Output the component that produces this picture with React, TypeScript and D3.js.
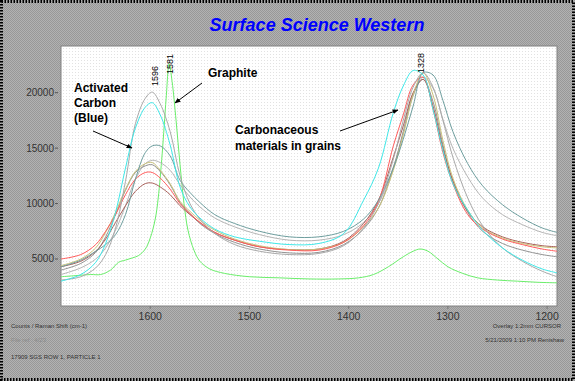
import React from "react";
import * as d3 from "d3";

// ---------- data ----------
const wavenumbers = [1690, 1670, 1655, 1645, 1635, 1625, 1615, 1605, 1598, 1590, 1580, 1570, 1560, 1550, 1535, 1515, 1490, 1460, 1430, 1405, 1385, 1370, 1355, 1345, 1335, 1325, 1315, 1305, 1295, 1280, 1265, 1245, 1225, 1205, 1190];

const cyanA = [3000, 3600, 4700, 6400, 9200, 13200, 16800, 18700, 19100, 18000, 15300, 11500, 9700, 8700, 7700, 7000, 6600, 6300, 6400, 7300, 10300, 13200, 18200, 20600, 22000, 21600, 18500, 14800, 11800, 9400, 7600, 6000, 4900, 4100, 3750];
const grayB = [3100, 3400, 4200, 5400, 7800, 12000, 17200, 19500, 20050, 19000, 16500, 12500, 10000, 8600, 7300, 6300, 5700, 5400, 5500, 6200, 7800, 10000, 14000, 17500, 20500, 21800, 20500, 17500, 14200, 10500, 8000, 6000, 4800, 3900, 3400];
const tealC = [4300, 4900, 5700, 6300, 7200, 9000, 12200, 14600, 15200, 15200, 14300, 12100, 11000, 10100, 9000, 8200, 7500, 7000, 7000, 7500, 8600, 10300, 13200, 15800, 18800, 21800, 21600, 19300, 16500, 13600, 11600, 9900, 8700, 7800, 7400];
const grayC = [3600, 4200, 5000, 6000, 7600, 9800, 12200, 13600, 13900, 13700, 13000, 11700, 10600, 9700, 8700, 7900, 7200, 6700, 6700, 7200, 8300, 10000, 13300, 16300, 19700, 21400, 20400, 17600, 15000, 12400, 10500, 9000, 8100, 7400, 7100];
const oliveD = [4400, 5000, 6000, 7400, 9200, 11300, 12900, 13600, 13700, 13000, 11800, 10200, 9300, 8500, 7600, 6800, 6200, 5850, 5900, 6500, 7900, 9600, 13000, 16200, 19800, 21800, 19800, 15700, 12300, 9400, 7800, 6900, 6400, 6100, 6000];
const grayE = [4000, 4600, 5600, 7000, 9000, 11200, 12800, 13400, 13500, 12900, 11700, 10100, 9100, 8200, 7300, 6500, 5900, 5550, 5600, 6300, 7700, 9600, 13200, 16500, 19900, 21200, 19200, 15300, 12000, 9200, 7500, 6400, 5800, 5400, 5200];
const redF = [5000, 5400, 6300, 7500, 9000, 10800, 12200, 12800, 12800, 12300, 11300, 10000, 9100, 8300, 7400, 6700, 6100, 5800, 5800, 6500, 8000, 10200, 15200, 18000, 20700, 21400, 18500, 14600, 11800, 9000, 7700, 6800, 6300, 5900, 5700];
const brownG = [4300, 4800, 5700, 6800, 8300, 9800, 11100, 11800, 11850, 11500, 10800, 9800, 9000, 8300, 7400, 6700, 6100, 5850, 5900, 6600, 8200, 10300, 14200, 17000, 20000, 21200, 18800, 15000, 12100, 9300, 7900, 7000, 6500, 6200, 6100];

const graphiteWn = [1690, 1675, 1660, 1650, 1640, 1632, 1625, 1618, 1612, 1605, 1600, 1595, 1592, 1588, 1584, 1581, 1578, 1574, 1570, 1566, 1562, 1556, 1550, 1540, 1525, 1500, 1470, 1440, 1410, 1390, 1375, 1360, 1345, 1335, 1328, 1320, 1310, 1300, 1285, 1270, 1250, 1230, 1210, 1190];
const graphiteH = [3400, 3500, 3600, 3600, 4000, 4700, 4900, 5100, 5300, 5900, 6900, 8600, 10500, 14500, 19500, 22600, 21000, 17500, 13500, 10000, 7600, 5800, 4800, 4100, 3700, 3400, 3300, 3200, 3200, 3300, 3600, 4300, 5200, 5700, 5900, 5700, 5000, 4300, 3700, 3300, 3100, 3000, 2900, 2850];

const seriesNames = ["grayC", "grayE", "brownG", "oliveD", "redF", "tealC", "grayB", "cyanA"];
const seriesValues = [grayC, grayE, brownG, oliveD, redF, tealC, grayB, cyanA];
const seriesColors = ["#b6b6b6", "#939393", "#a8605a", "#c9c27a", "#ff5a5a", "#6e9e9e", "#a9a9a9", "#3ee8e8"];
const graphiteColor = "#6aee6a";

const xTicks = [1600, 1500, 1400, 1300, 1200];
const yTicks = [5000, 10000, 15000, 20000];

const peakLabels = [
  { wn: 1596, text: "1596", bottom: 86 },
  { wn: 1581, text: "1581", bottom: 74 },
  { wn: 1328, text: "1328", bottom: 73 },
];

const title = "Surface Science Western";
const footerLeft = ["Counts / Raman Shift (cm-1)", "File ref :  4/23", "17909 SGS ROW 1, PARTICLE 1"];
const footerRight = ["Overlay 1:2mm CURSOR", "5/21/2009  1:10 PM  Renishaw"];

// ---------- layout ----------
const W = 575;
const H = 381;
const plot = { left: 61, right: 557, top: 46, bottom: 306 };

export default function App() {
  const x = d3.scaleLinear().domain([1690, 1190]).range([plot.left, plot.right]);
  const y = d3.scaleLinear().domain([760, 24210]).range([plot.bottom, plot.top]);

  const line = d3
    .line<[number, number]>()
    .x((d) => x(d[0]))
    .y((d) => y(d[1]))
    .curve(d3.curveCatmullRom.alpha(0.5));

  const font = "Liberation Sans, Arial, sans-serif";

  return (
    <svg
      width={W}
      height={H}
      style={{ position: "absolute", left: 0, top: 0, display: "block" }}
      fontFamily={font}
    >
      <defs>
        <pattern id="bgPat" width="2" height="2" patternUnits="userSpaceOnUse">
          <rect width="2" height="2" fill="#b2b2b2" />
          <rect width="1" height="1" fill="#989898" />
          <rect x="1" y="1" width="1" height="1" fill="#989898" />
        </pattern>
        <pattern id="dotPat" width="3" height="3" patternUnits="userSpaceOnUse">
          <rect width="3" height="3" fill="#ffffff" />
          <rect width="1" height="1" fill="#e2e2e2" />
        </pattern>
        <clipPath id="plotClip">
          <rect x={plot.left} y={plot.top} width={plot.right - plot.left} height={plot.bottom - plot.top} />
        </clipPath>
        <marker id="arrow" viewBox="0 0 10 10" refX="9" refY="5" markerWidth="6" markerHeight="6" orient="auto">
          <path d="M0,1 L10,5 L0,9 z" fill="#000" />
        </marker>
      </defs>

      <rect x={0} y={0} width={W} height={H} fill="url(#bgPat)" />
      <rect x={1.5} y={1.5} width={W - 3} height={H - 3} fill="none" stroke="#000" strokeWidth={3} strokeDasharray="1.5 1.5" />

      <text x={317} y={31} textAnchor="middle" fontSize={18} fontWeight="bold" fontStyle="italic" fill="#0000ff">
        {title}
      </text>

      <rect
        x={plot.left}
        y={plot.top}
        width={plot.right - plot.left}
        height={plot.bottom - plot.top}
        fill="url(#dotPat)"
        stroke="#808080"
        strokeWidth={1}
      />

      <g clipPath="url(#plotClip)" fill="none" strokeWidth={1}>
        <path d={line(graphiteWn.map((w, i) => [w, graphiteH[i]]) as [number, number][]) || ""} stroke={graphiteColor} />
        {seriesValues.map((vals, si) => (
          <path
            key={seriesNames[si]}
            d={line(wavenumbers.map((w, i) => [w, vals[i]]) as [number, number][]) || ""}
            stroke={seriesColors[si]}
          />
        ))}
      </g>

      {/* y axis */}
      <g fontSize={10} fill="#333">
        {yTicks.map((t) => (
          <g key={t}>
            <text x={54} y={y(t) + 3.5} textAnchor="end">
              {t}
            </text>
            <line x1={55} x2={58} y1={y(t)} y2={y(t)} stroke="#555" />
          </g>
        ))}
      </g>

      {/* x axis */}
      <g fontSize={10.5} fill="#333">
        {xTicks.map((t) => (
          <g key={t}>
            <text x={x(t)} y={320} textAnchor="middle">
              {t}
            </text>
            <line x1={x(t)} x2={x(t)} y1={plot.bottom} y2={plot.bottom + 3} stroke="#777" />
          </g>
        ))}
      </g>

      {/* peak labels */}
      {peakLabels.map((p) => (
        <g key={p.text}>
          <text
            transform={`translate(${x(p.wn) + 3.5},${p.bottom}) rotate(-90)`}
            fontSize={9}
            fill="#000"
          >
            {p.text}
          </text>
        </g>
      ))}

      {/* annotations */}
      <g fontSize={12} fontWeight="bold" fill="#000">
        <text x={74} y={92}>Activated</text>
        <text x={74} y={107}>Carbon</text>
        <text x={74} y={122}>(Blue)</text>
        <text x={208} y={77}>Graphite</text>
        <text x={235} y={134}>Carbonaceous</text>
        <text x={235} y={150}>materials in grains</text>
      </g>
      <g stroke="#000" strokeWidth={1} markerEnd="url(#arrow)">
        <line x1={93} y1={131} x2={132} y2={148} markerEnd="url(#arrow)" />
        <line x1={202} y1={83} x2={175} y2={103} markerEnd="url(#arrow)" />
        <line x1={340} y1={131} x2={398} y2={110} markerEnd="url(#arrow)" />
      </g>

      {/* footer */}
      <g fontSize={6} fill="#333">
        <text x={11} y={328}>{footerLeft[0]}</text>
        <text x={11} y={342} fill="#8a8a8a">{footerLeft[1]}</text>
        <text x={11} y={359}>{footerLeft[2]}</text>
        <text x={561} y={328} textAnchor="end">{footerRight[0]}</text>
        <text x={564} y={342} textAnchor="end">{footerRight[1]}</text>
      </g>
    </svg>
  );
}
